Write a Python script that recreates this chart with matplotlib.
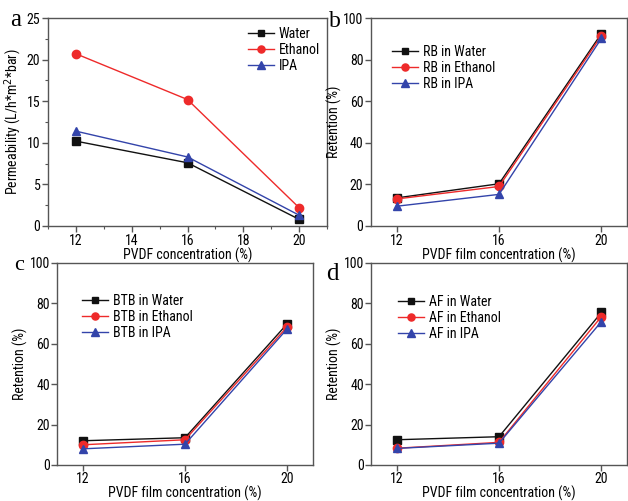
import matplotlib
matplotlib.use("Agg")
import matplotlib.pyplot as plt
from matplotlib.ticker import MultipleLocator
from matplotlib import font_manager

names = {f.name for f in font_manager.fontManager.ttflist}
FAM, FS = 'Liberation Sans', 9.5
for cand, size in [('Liberation Sans Narrow', 11), ('Arial Narrow', 11), ('Roboto Condensed', 10.0)]:
    if cand in names:
        FAM, FS = cand, size
        break
plt.rcParams['font.family'] = [FAM, 'DejaVu Sans']

conc = [12, 16, 20]

# Panel a: permeability
perm_water = [10.2, 7.6, 0.8]
perm_ethanol = [20.7, 15.2, 2.2]
perm_ipa = [11.4, 8.3, 1.3]

# Panel b: RB retention
rb_water = [13.5, 20.3, 92.5]
rb_ethanol = [13.0, 19.0, 91.5]
rb_ipa = [9.5, 15.2, 90.2]

# Panel c: BTB retention
btb_water = [12.0, 13.5, 70.0]
btb_ethanol = [10.0, 12.5, 68.5]
btb_ipa = [8.0, 10.3, 67.5]

# Panel d: AF retention
af_water = [12.5, 14.0, 75.5]
af_ethanol = [8.3, 11.2, 73.5]
af_ipa = [8.2, 10.8, 71.0]

C_BLACK = '#111111'
C_RED = '#ee2a2a'
C_BLUE = '#3344aa'
SPINE = '#555555'

fig = plt.figure(figsize=(6.28, 5.01), dpi=100)

W, H = 628.0, 501.0
def ax_at(l, t, r, b):
    return fig.add_axes([l / W, 1 - b / H, (r - l) / W, (b - t) / H])

ax_a = ax_at(48, 18, 327, 226)
ax_b = ax_at(371, 18, 627, 226)
ax_c = ax_at(57, 263, 313, 465)
ax_d = ax_at(371, 263, 627, 465)

def style(ax, pad=1.5):
    for s in ax.spines.values():
        s.set_color(SPINE)
        s.set_linewidth(1.0)
    ax.tick_params(direction='out', color=SPINE, labelsize=FS, length=4, width=1, pad=pad)
    ax.tick_params(which='minor', direction='out', color=SPINE, length=2.5, width=0.8)

def plot_series(ax, ys, labels):
    ax.plot(conc, ys[0], '-s', color=C_BLACK, ms=5.5, lw=1.0, label=labels[0], zorder=3)
    ax.plot(conc, ys[1], '-o', color=C_RED, ms=6, lw=1.0, label=labels[1], zorder=3)
    ax.plot(conc, ys[2], '-^', color=C_BLUE, ms=6, lw=1.0, label=labels[2], zorder=3)

LEG = dict(frameon=False, fontsize=FS, handlelength=1.9, handletextpad=0.3,
           labelspacing=0.15, borderaxespad=0.0, borderpad=0.0, markerscale=0.85)

# Panel a
plot_series(ax_a, [perm_water, perm_ethanol, perm_ipa], ['Water', 'Ethanol', 'IPA'])
ax_a.set_xlim(11, 21)
ax_a.set_ylim(0, 25)
ax_a.xaxis.set_major_locator(MultipleLocator(2))
ax_a.xaxis.set_minor_locator(MultipleLocator(1))
ax_a.yaxis.set_major_locator(MultipleLocator(5))
ax_a.yaxis.set_minor_locator(MultipleLocator(2.5))
ax_a.set_xlabel('PVDF concentration (%)', fontsize=FS, labelpad=0)
ax_a.set_ylabel('Permeability (L/h*m$^2$*bar)', fontsize=FS, labelpad=2)
style(ax_a)
ax_a.legend(loc='upper left', bbox_to_anchor=((248 - 48) / 279, (226 - 27) / 208), **LEG)

# Retention panels
panels = [
    (ax_b, [rb_water, rb_ethanol, rb_ipa], ['RB in Water', 'RB in Ethanol', 'RB in IPA'],
     ((392 - 371) / 256, (226 - 45) / 208), 0, 1.5),
    (ax_c, [btb_water, btb_ethanol, btb_ipa], ['BTB in Water', 'BTB in Ethanol', 'BTB in IPA'],
     ((82 - 57) / 256, (465 - 294) / 202), -0.5, 1.2),
    (ax_d, [af_water, af_ethanol, af_ipa], ['AF in Water', 'AF in Ethanol', 'AF in IPA'],
     ((398 - 371) / 256, (465 - 295) / 202), -0.5, 1.2),
]
for ax, ys, labels, anchor, xpad, tpad in panels:
    plot_series(ax, ys, labels)
    ax.set_xlim(11, 21)
    ax.set_ylim(0, 100)
    ax.set_xticks(conc)
    ax.set_yticks([0, 20, 40, 60, 80, 100])
    ax.set_xlabel('PVDF film concentration (%)', fontsize=FS, labelpad=xpad)
    ax.set_ylabel('Retention (%)', fontsize=FS, labelpad=1.0)
    style(ax, tpad)
    ax.legend(loc='upper left', bbox_to_anchor=anchor, **LEG)

# Panel letters
fig.text(10 / W, 1 - 26 / H, 'a', fontsize=18, family='Liberation Serif')
fig.text(329 / W, 1 - 27 / H, 'b', fontsize=17, family='Liberation Serif')
fig.text(14 / W, 1 - 270 / H, 'c', fontsize=16, family='Liberation Serif')
fig.text(326 / W, 1 - 280 / H, 'd', fontsize=18, family='Liberation Serif')

fig.savefig('out.png', dpi=100)
